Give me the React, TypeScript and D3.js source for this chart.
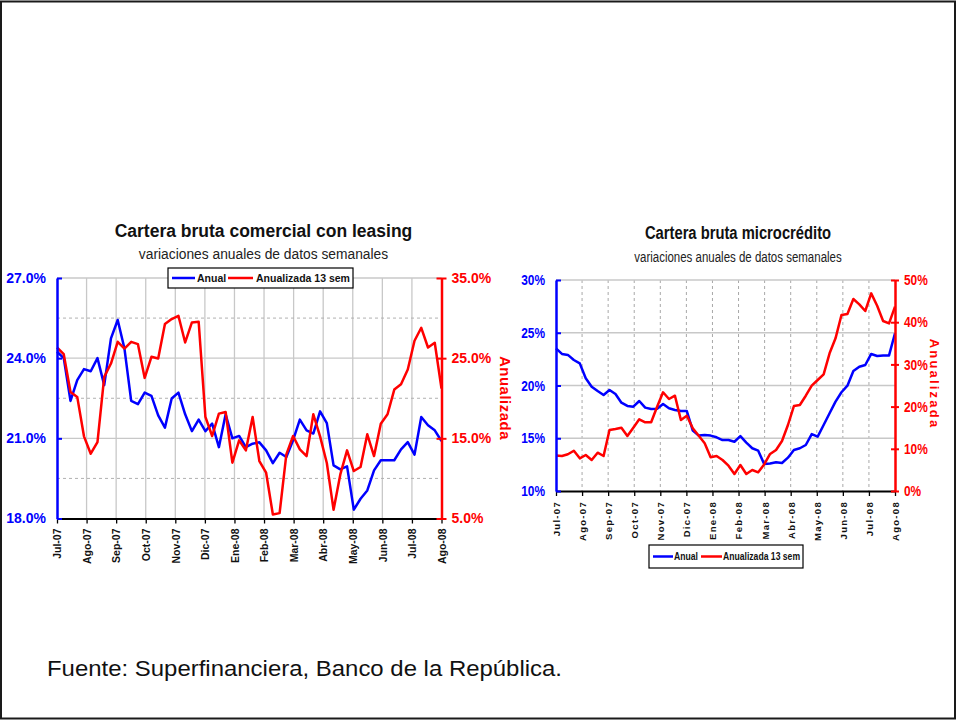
import * as React from "react";
import * as d3 from "d3";

const months = [
  "Jul-07", "Ago-07", "Sep-07", "Oct-07", "Nov-07", "Dic-07", "Ene-08",
  "Feb-08", "Mar-08", "Abr-08", "May-08", "Jun-08", "Jul-08", "Ago-08"
];

// cartera comercial con leasing, weekly
const comAnual = [
  24.24, 24.0, 22.4, 23.18, 23.59, 23.51, 24.0, 22.99, 24.74, 25.43,
  24.36, 22.4, 22.28, 22.71, 22.59, 21.86, 21.4, 22.49, 22.71, 21.9,
  21.27, 21.7, 21.27, 21.55, 20.67, 21.9, 21.0, 21.09, 20.67, 20.8,
  20.85, 20.55, 20.07, 20.46, 20.3, 20.93, 21.7, 21.3, 21.18, 22.01,
  21.57, 19.99, 19.84, 19.95, 18.33, 18.74, 19.05, 19.8, 20.18, 20.18,
  20.18, 20.59, 20.86, 20.39, 21.8, 21.49, 21.3, 20.9
];
const comAnualizada = [
  26.33, 25.5, 20.79, 20.17, 15.25, 13.08, 14.54, 22.67, 24.33, 27.04,
  26.2, 27.04, 26.75, 22.54, 25.17, 24.96, 29.25, 29.88, 30.29, 26.96,
  29.46, 29.54, 17.67, 15.29, 18.08, 18.29, 11.96, 14.75, 13.5, 17.67,
  12.17, 10.71, 5.5, 5.67, 13.0, 15.29, 13.63, 12.79, 18.0, 15.25,
  11.92, 6.08, 10.5, 13.5, 10.92, 11.42, 15.5, 12.79, 16.83, 18.0,
  21.08, 21.75, 23.58, 27.17, 28.79, 26.33, 26.92, 21.21
];

// cartera microcredito, weekly
const microAnual = [
  23.52, 22.99, 22.9, 22.42, 22.1, 20.68, 19.89, 19.48, 19.1, 19.57,
  19.19, 18.37, 18.06, 17.99, 18.53, 17.9, 17.77, 17.8, 18.25, 17.84,
  17.68, 17.58, 17.58, 15.72, 15.25, 15.3, 15.25, 15.09, 14.83, 14.83,
  14.67, 15.2, 14.58, 14.05, 13.82, 12.56, 12.6, 12.72, 12.65, 13.16,
  13.89, 14.05, 14.36, 15.4, 15.15, 16.26, 17.37, 18.47, 19.36, 19.98,
  21.37, 21.78, 21.94, 22.99, 22.8, 22.85, 22.85, 24.95
];
const microAnualizada = [
  8.4, 8.3, 8.7, 9.55, 7.74, 8.53, 7.35, 9.08, 8.29, 14.45,
  14.69, 15.0, 13.03, 15.0, 16.99, 16.28, 16.28, 19.98, 23.39, 21.8,
  22.58, 16.82, 17.84, 14.85, 13.1, 11.3, 7.98, 8.29, 7.35, 6.0,
  4.03, 6.16, 4.03, 4.98, 4.43, 6.3, 8.77, 9.72, 11.85, 15.64,
  20.14, 20.38, 22.58, 24.95, 26.3, 27.65, 32.63, 36.18, 41.7, 41.94,
  45.5, 44.24, 42.65, 46.84, 43.91, 40.28, 39.73, 43.68
];

const comLeftTicks = [18, 21, 24, 27];
const comMinorTicks = [19.5, 22.5, 25.5];
const comRightTicks = [5, 15, 25, 35];
const microLeftTicks = [10, 15, 20, 25, 30];
const microRightTicks = [0, 10, 20, 30, 40, 50];
const seriesNames = ["Anual", "Anualizada 13 sem"];

const blue = "#0000ff";
const red = "#ff0000";
const font = "'Liberation Sans', Arial, sans-serif";

const panels = [
  {
    title: "Cartera bruta comercial con leasing",
    subtitle: "variaciones anuales de datos semanales",
    cx: 263.5, titleY: 237, subY: 259, titleSize: 17.5, subSize: 13.8,
    squeeze: 1,
    x0: 57, x1: 441.5, yTop: 278, yBot: 518.5,
    anual: comAnual, anualizada: comAnualizada,
    leftDomain: [18, 27], rightDomain: [5, 35],
    leftTicks: comLeftTicks, rightTicks: comRightTicks, minor: comMinorTicks,
    fmt: (d: number) => d3.format(".1f")(d) + "%",
    tickFont: 14, rightTick: 5,
    xFont: 10.5, xSpacing: 0, vDashed: false,
    legend: { x: 168, y: 268, w: 185, h: 20, font: 10.5,
      items: [{ l0: 172, l1: 195, tx: 197 }, { l0: 228, l1: 253, tx: 256 }] },
    side: { x: 499.5, y: 398, size: 15, spacing: 0.5 }
  },
  {
    title: "Cartera bruta microcrédito",
    subtitle: "variaciones anuales de datos semanales",
    cx: 738, titleY: 239, subY: 261.5, titleSize: 18, subSize: 14,
    squeeze: 0.82,
    x0: 556, x1: 895, yTop: 280, yBot: 491,
    anual: microAnual, anualizada: microAnualizada,
    leftDomain: [10, 30], rightDomain: [0, 50],
    leftTicks: microLeftTicks, rightTicks: microRightTicks, minor: [],
    fmt: (d: number) => d + "%",
    tickFont: 14.5, rightTick: 4,
    xFont: 9.5, xSpacing: 1.3, vDashed: true,
    legend: { x: 649, y: 545, w: 154, h: 23, font: 10.5,
      items: [{ l0: 653, l1: 673, tx: 674 }, { l0: 701, l1: 722, tx: 723 }] },
    side: { x: 930, y: 384, size: 13, spacing: 2.2 }
  }
];

const drawPanel = (svg, p) => {
  const g = svg.append("g").attr("font-family", font);
  const xm = d3.scaleLinear().domain([0, months.length - 1]).range([p.x0, p.x1]);
  const xw = d3.scaleLinear().domain([0, p.anual.length - 1]).range([p.x0, p.x1]);
  const yl = d3.scaleLinear().domain(p.leftDomain).range([p.yBot, p.yTop]);
  const yr = d3.scaleLinear().domain(p.rightDomain).range([p.yBot, p.yTop]);

  // narrow-font look for the microcredito panel
  const squeeze = sel =>
    sel.each(function () {
      if (p.squeeze === 1) return;
      const w = this.getComputedTextLength();
      this.setAttribute("textLength", String(w * p.squeeze));
      this.setAttribute("lengthAdjust", "spacingAndGlyphs");
    });

  g.append("text")
    .attr("x", p.cx).attr("y", p.titleY)
    .attr("text-anchor", "middle").attr("font-weight", "bold")
    .attr("font-size", p.titleSize).attr("fill", "#111")
    .text(p.title).call(squeeze);
  g.append("text")
    .attr("x", p.cx).attr("y", p.subY)
    .attr("text-anchor", "middle").attr("font-size", p.subSize).attr("fill", "#222")
    .text(p.subtitle).call(squeeze);

  // grid
  g.append("g").selectAll("line")
    .data(d3.range(1, months.length - 1))
    .enter().append("line")
    .attr("x1", d => xm(d)).attr("x2", d => xm(d))
    .attr("y1", p.yTop).attr("y2", p.yBot)
    .attr("stroke", p.vDashed ? "#a8a8a8" : "#c8c8c8")
    .attr("stroke-width", p.vDashed ? 1 : 1.3)
    .attr("stroke-dasharray", p.vDashed ? "3,3" : null);
  g.append("g").selectAll("line")
    .data(p.leftTicks.filter(t => t !== p.leftDomain[0]))
    .enter().append("line")
    .attr("x1", p.x0).attr("x2", p.x1)
    .attr("y1", d => yl(d)).attr("y2", d => yl(d))
    .attr("stroke", "#c8c8c8").attr("stroke-width", 1.3);
  g.append("g").selectAll("line")
    .data(p.minor)
    .enter().append("line")
    .attr("x1", p.x0).attr("x2", p.x1)
    .attr("y1", d => yl(d)).attr("y2", d => yl(d))
    .attr("stroke", "#b0b0b0").attr("stroke-dasharray", "3,3");

  // series
  const lineL = d3.line<number>().x((d, i) => xw(i)).y(d => yl(d));
  const lineR = d3.line<number>().x((d, i) => xw(i)).y(d => yr(d));
  g.append("path").datum(p.anual).attr("d", lineL)
    .attr("fill", "none").attr("stroke", blue).attr("stroke-width", 2.5)
    .attr("stroke-linejoin", "round");
  g.append("path").datum(p.anualizada).attr("d", lineR)
    .attr("fill", "none").attr("stroke", red).attr("stroke-width", 2.5)
    .attr("stroke-linejoin", "round");

  // x axis
  const xa = g.append("g")
    .attr("transform", `translate(0,${p.yBot})`)
    .call(
      d3.axisBottom(xm)
        .tickValues(d3.range(months.length))
        .tickFormat(i => months[i])
        .tickSize(5)
        .tickSizeOuter(0)
    );
  xa.attr("color", "#000").attr("font-family", font);
  xa.select(".domain").attr("stroke-width", 2);
  xa.selectAll(".tick line").attr("stroke-width", 1.3);
  xa.selectAll("text")
    .attr("transform", "rotate(-90)")
    .attr("x", -10).attr("y", 0).attr("dy", "0.36em")
    .attr("text-anchor", "end")
    .attr("font-size", p.xFont).attr("font-weight", "bold")
    .attr("letter-spacing", p.xSpacing)
    .attr("fill", "#111");

  // left axis
  const la = g.append("g")
    .attr("transform", `translate(${p.x0},0)`)
    .call(
      d3.axisLeft(yl).tickValues(p.leftTicks).tickFormat(p.fmt)
        .tickSize(-5).tickSizeOuter(0).tickPadding(11)
    );
  la.attr("color", blue).attr("font-family", font);
  la.select(".domain").attr("stroke-width", 2.5);
  la.selectAll(".tick line").attr("stroke-width", 2);
  la.selectAll("text")
    .attr("font-size", p.tickFont).attr("font-weight", "bold")
    .call(squeeze);

  // right axis
  const ra = g.append("g")
    .attr("transform", `translate(${p.x1},0)`)
    .call(
      d3.axisRight(yr).tickValues(p.rightTicks).tickFormat(p.fmt)
        .tickSize(p.rightTick).tickSizeOuter(0).tickPadding(5)
    );
  ra.attr("color", red).attr("font-family", font);
  ra.select(".domain").attr("stroke-width", 2.5);
  ra.selectAll(".tick line")
    .attr("x1", -p.rightTick).attr("stroke-width", 2);
  ra.selectAll("text")
    .attr("font-size", p.tickFont).attr("font-weight", "bold")
    .call(squeeze);

  g.append("text")
    .attr("transform", `translate(${p.side.x},${p.side.y}) rotate(90)`)
    .attr("text-anchor", "middle")
    .attr("font-size", p.side.size).attr("font-weight", "bold")
    .attr("letter-spacing", p.side.spacing)
    .attr("fill", red)
    .text("Anualizada");

  // legend
  const lg = g.append("g");
  const lgy = p.legend.y + p.legend.h / 2;
  lg.append("rect")
    .attr("x", p.legend.x).attr("y", p.legend.y)
    .attr("width", p.legend.w).attr("height", p.legend.h)
    .attr("fill", "#fff").attr("stroke", "#000").attr("stroke-width", 1.2);
  const items = lg.selectAll(".item")
    .data(seriesNames.map((name, i) => ({ name, color: i === 0 ? blue : red, pos: p.legend.items[i] })))
    .enter().append("g");
  items.append("line")
    .attr("x1", d => d.pos.l0).attr("x2", d => d.pos.l1)
    .attr("y1", lgy).attr("y2", lgy)
    .attr("stroke", d => d.color).attr("stroke-width", 2.5);
  items.append("text")
    .attr("x", d => d.pos.tx).attr("y", lgy + p.legend.font * 0.36)
    .attr("font-size", p.legend.font).attr("font-weight", "bold")
    .attr("fill", "#111")
    .text(d => d.name)
    .call(squeeze);
};

const App = () => {
  const ref = React.useRef<SVGSVGElement>(null);

  React.useEffect(() => {
    const svg = d3.select(ref.current);
    svg.selectAll("*").remove();
    svg.append("rect")
      .attr("width", 958).attr("height", 722).attr("fill", "#fff");
    svg.append("rect")
      .attr("x", 1).attr("y", 1.5).attr("width", 954).attr("height", 717)
      .attr("fill", "none").attr("stroke", "#1a1a1a").attr("stroke-width", 2);
    panels.forEach(p => drawPanel(svg, p));
    svg.append("text")
      .attr("x", 47).attr("y", 676)
      .attr("font-family", font).attr("font-size", 22.5).attr("fill", "#111")
      .attr("textLength", 515).attr("lengthAdjust", "spacingAndGlyphs")
      .text("Fuente: Superfinanciera, Banco de la República.");
  }, []);

  return (
    <div style={{ position: "absolute", left: 0, top: 0 }}>
      <svg ref={ref} width={958} height={722} style={{ display: "block" }} />
    </div>
  );
};

export default App;
